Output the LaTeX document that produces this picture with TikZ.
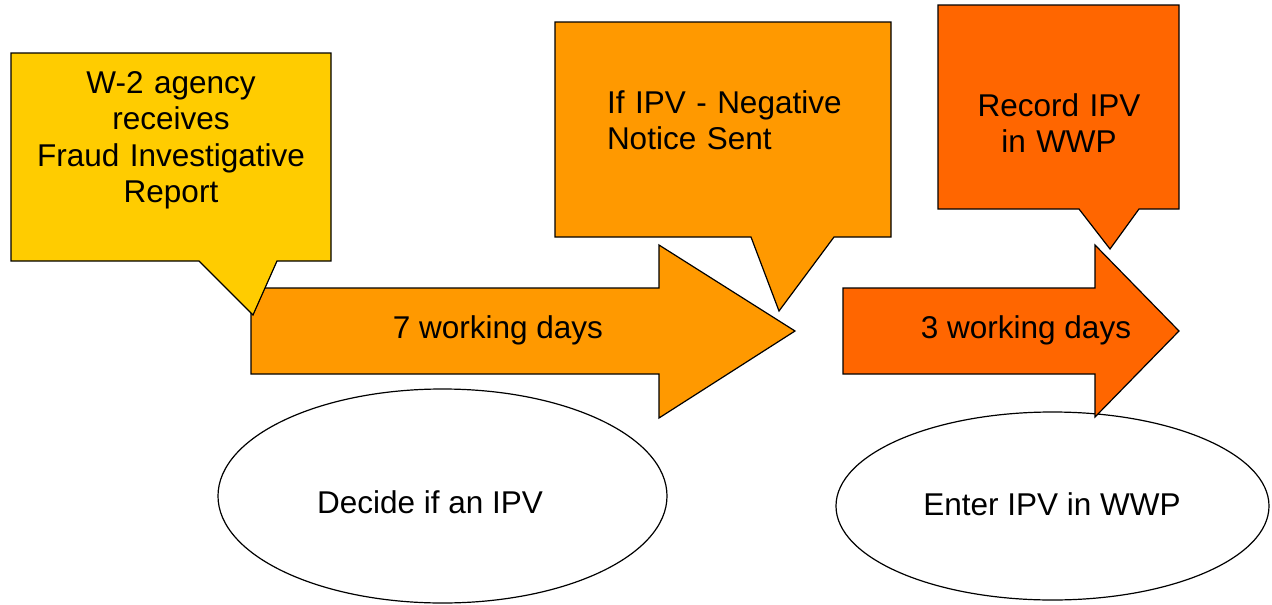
\documentclass[tikz,border=0pt]{standalone}
\usepackage{fontspec}
\setmainfont{Liberation Sans}
\usetikzlibrary{shapes.geometric}
\definecolor{cyellow}{HTML}{FFCC00}
\definecolor{corange}{HTML}{FF9900}
\definecolor{cdark}{HTML}{FF6600}
\tikzset{
  shapeline/.style={draw=black, line width=1.2pt, line join=miter},
  lbl/.style={font=\fontsize{31.5}{36.5}\selectfont, inner sep=0pt, outer sep=0pt},
  oval/.style={ellipse, draw=black, line width=1.2pt, fill=white, inner sep=0pt}
}
\begin{document}
\begin{tikzpicture}[x=1pt,y=-1pt]
\useasboundingbox (0,0) rectangle (1272,605);
% ellipses
\node[oval, minimum width=449pt, minimum height=214pt] (ell1) at (442.5,496) {};
\node[oval, minimum width=433pt, minimum height=188pt] (ell2) at (1052.5,506) {};
\node[lbl, anchor=base] (t5) at (430,513) {Decide if an IPV};
\node[lbl, anchor=base] (t6) at (1052,515) {Enter IPV in WWP};
% arrows
\path[shapeline, fill=corange] (251,288) -- (659,288) -- (659,245) -- (795,331) -- (659,418) -- (659,374) -- (251,374) -- cycle;
\path[shapeline, fill=cdark] (843,288) -- (1095,288) -- (1095,245) -- (1179,331) -- (1095,417) -- (1095,374) -- (843,374) -- cycle;
\node[lbl, anchor=base] (t4) at (498,338) {7 working days};
\node[lbl, anchor=base] (t7) at (1026,338) {3 working days};
% callouts
\path[shapeline, fill=cyellow] (11,53) -- (331,53) -- (331,261) -- (277,261) -- (253,315) -- (199,261) -- (11,261) -- cycle;
\path[shapeline, fill=corange] (555,22) -- (891,22) -- (891,237) -- (834,237) -- (779,311) -- (751,237) -- (555,237) -- cycle;
\path[shapeline, fill=cdark] (938,5) -- (1179,5) -- (1179,209) -- (1139,209) -- (1110,249) -- (1079,209) -- (938,209) -- cycle;
\node[lbl, anchor=base, text width=320pt, align=center] (t1) at (171,93) {W-2 agency\\receives\\Fraud Investigative\\Report};
\node[lbl, anchor=base west, text width=280pt, align=left] (t2) at (607,113) {If IPV - Negative\\Notice Sent};
\node[lbl, anchor=base, text width=230pt, align=center] (t3) at (1059,116) {Record IPV\\in WWP};
\end{tikzpicture}
\end{document}
